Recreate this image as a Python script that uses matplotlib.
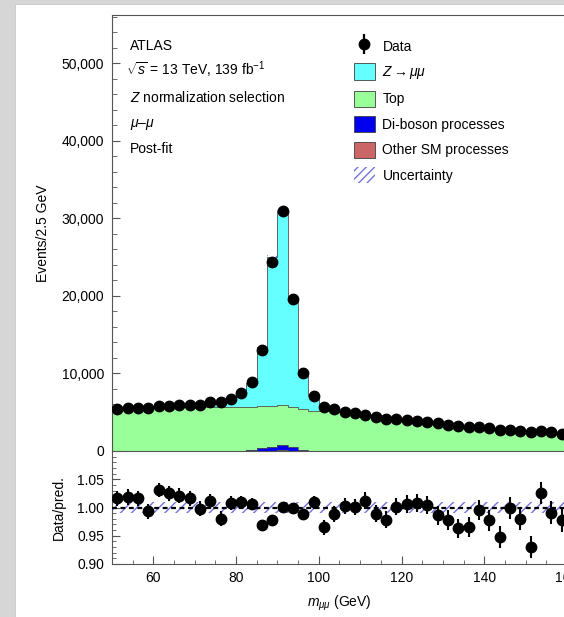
import numpy as np
import matplotlib
matplotlib.use("Agg")
import matplotlib.pyplot as plt
from matplotlib.patches import Patch, Rectangle
from matplotlib.lines import Line2D
from matplotlib.legend_handler import HandlerTuple
from matplotlib.ticker import MultipleLocator, FuncFormatter

plt.rcParams["font.family"] = ["Liberation Sans", "DejaVu Sans"]
plt.rcParams["mathtext.fontset"] = "custom"
plt.rcParams["mathtext.rm"] = "Liberation Sans"
plt.rcParams["mathtext.it"] = "Liberation Sans:italic"
plt.rcParams["mathtext.bf"] = "Liberation Sans:bold"
plt.rcParams["hatch.linewidth"] = 1.0

# ---- binning: 2.5 GeV bins from 50 to 160 GeV ----
bin_lo = 50.0
bin_width = 2.5
n_bins = 44
edges = bin_lo + bin_width * np.arange(n_bins + 1)
centers = 0.5 * (edges[:-1] + edges[1:])

# ---- observed events per bin ----
data = [5420, 5500, 5590, 5500, 5800, 5850, 5930, 5980, 5980, 6280,
        6280, 6700, 7440, 8860, 13030, 24420, 31000, 19650, 10040, 7100,
        5720, 5380, 4990, 4860, 4640, 4340, 4170, 4170, 4000, 3870,
        3700, 3570, 3350, 3180, 3100, 3050, 2920, 2750, 2750, 2620,
        2450, 2620, 2410, 2190]

# ---- post-fit background composition ----
other_sm = [0] * 15 + [60, 120, 40] + [0] * 26
diboson = [0] * 13 + [130, 340, 500, 610, 430, 130] + [0] * 25
top = [5230, 5300, 5390, 5420, 5500, 5560, 5620, 5660, 5680, 5680,
       5660, 5640, 5650, 5550, 5410, 5290, 5220, 5230, 5270, 5200,
       5150, 5300, 4990, 4850, 4620, 4420, 4270, 4140, 4000, 3860,
       3720, 3600, 3470, 3340, 3220, 3110, 3000, 2900, 2800, 2700,
       2610, 2520, 2430, 2350]
z_mumu = [100, 100, 110, 120, 130, 150, 190, 230, 310, 530,
          750, 1010, 1720, 3130, 7700, 19150, 25020, 13970, 4760, 1840,
          780] + [0] * 23

# ---- data / prediction ----
ratio = [1.016, 1.018, 1.016, 0.993, 1.031, 1.025, 1.021, 1.016, 0.998, 1.011,
         0.980, 1.008, 1.009, 1.006, 0.969, 0.977, 1.001, 0.999, 0.988, 1.009,
         0.965, 0.989, 1.002, 1.001, 1.012, 0.989, 0.978, 1.001, 1.006, 1.008,
         1.005, 0.986, 0.978, 0.963, 0.965, 0.996, 0.977, 0.948, 0.999, 0.979,
         0.930, 1.026, 0.991, 0.977]
ratio_err = [0.014, 0.014, 0.014, 0.014, 0.013, 0.013, 0.013, 0.013, 0.013, 0.013,
             0.013, 0.012, 0.012, 0.011, 0.009, 0.006, 0.006, 0.007, 0.010, 0.012,
             0.013, 0.014, 0.014, 0.014, 0.015, 0.015, 0.015, 0.015, 0.016, 0.016,
             0.016, 0.017, 0.017, 0.017, 0.018, 0.018, 0.018, 0.019, 0.019, 0.019,
             0.019, 0.020, 0.020, 0.021]
unc_rel = 0.009  # relative half-width of the prediction uncertainty band

col_z = "#66ffff"
col_top = "#99ff99"
col_dib = "#0000ee"
col_oth = "#cc6666"
col_unc = "#7272e0"
col_axis = "#555555"
col_edge = "#505050"

W, H = 564, 617
fig = plt.figure(figsize=(W / 100, H / 100), dpi=100)
fig.patch.set_facecolor("#d6d6d6")
fig.patches.append(Rectangle((15 / W, 0), 1, (H - 4) / H, transform=fig.transFigure,
                             facecolor="white", edgecolor="#c8c8c8", lw=0.6, zorder=-5))

ax_l, ax_r = 112, 567
main_top, main_bot, rat_bot = 15, 451, 564
ax = fig.add_axes([ax_l / W, 1 - main_bot / H, (ax_r - ax_l) / W, (main_bot - main_top) / H])
axr = fig.add_axes([ax_l / W, 1 - rat_bot / H, (ax_r - ax_l) / W, (rat_bot - main_bot) / H],
                   sharex=ax)
for a in (ax, axr):
    a.set_zorder(2)
    a.patch.set_alpha(0)

# ---- stacked prediction ----
layers = [(other_sm, col_oth), (diboson, col_dib), (top, col_top), (z_mumu, col_z)]
base = np.zeros(n_bins)
for vals, col in layers:
    lvl = base + np.asarray(vals, float)
    ax.stairs(lvl, edges, baseline=base, fill=True, color=col, lw=0, zorder=2)
    base = lvl
base = np.zeros(n_bins)
for vals, col in layers:
    lvl = base + np.asarray(vals, float)
    ax.stairs(lvl, edges, color=col_edge, lw=0.6, zorder=3)
    base = lvl
total = base

ax.stairs(total * (1 + unc_rel), edges, baseline=total * (1 - unc_rel), fill=True,
          facecolor="none", edgecolor=col_unc, hatch="///", lw=0, zorder=4)

ax.plot(centers, data, "o", color="black", ms=7.5, zorder=5)

ax.set_xlim(bin_lo, 160)
ax.set_ylim(0, 56200)

# ---- ratio panel ----
one = np.ones(n_bins)
axr.stairs(one + unc_rel, edges, baseline=one - unc_rel, fill=True,
           facecolor="none", edgecolor=col_unc, hatch="///", lw=0, zorder=2)
axr.axhline(1.0, color="black", lw=1.6, ls=(0, (2.2, 1.6)), zorder=3)
axr.errorbar(centers, ratio, yerr=ratio_err, fmt="o", color="black", ms=7.5,
             elinewidth=1.5, capsize=0, zorder=5)
axr.set_ylim(0.90, 1.10)

# ---- axes styling ----
for a in (ax, axr):
    for s in a.spines.values():
        s.set_color(col_axis)
        s.set_linewidth(0.8)
    a.spines["right"].set_visible(False)
    a.tick_params(which="both", direction="in", colors=col_axis, labelcolor="black",
                  labelsize=10, top=False, right=False)
    a.xaxis.set_major_locator(MultipleLocator(20))
    a.xaxis.set_minor_locator(MultipleLocator(5))

ax.tick_params(axis="x", which="major", length=8.5, labelbottom=False)
ax.tick_params(axis="x", which="minor", length=3.5)
ax.tick_params(axis="y", which="major", length=6, pad=5.5)
ax.tick_params(axis="y", which="minor", length=3.5)
ax.yaxis.set_major_locator(MultipleLocator(10000))
ax.yaxis.set_minor_locator(MultipleLocator(2000))
ax.yaxis.set_major_formatter(FuncFormatter(lambda v, _: f"{int(round(v)):,}"))

axr.tick_params(axis="x", which="major", length=6, pad=5)
axr.tick_params(axis="x", which="minor", length=3)
axr.tick_params(axis="y", which="major", length=6, pad=5.5)
axr.tick_params(axis="y", which="minor", length=3)
axr.yaxis.set_major_locator(MultipleLocator(0.05))
axr.yaxis.set_minor_locator(MultipleLocator(0.01))
axr.yaxis.set_major_formatter(FuncFormatter(lambda v, _: f"{v:.2f}"))
axr.spines["top"].set_visible(False)
axr.set_yticks([0.90, 0.95, 1.00, 1.05])

ax.set_ylabel("Events/2.5 GeV", fontsize=10)
ax.yaxis.set_label_coords((50 - ax_l) / (ax_r - ax_l), 0.5)
axr.set_ylabel("Data/pred.", fontsize=10)
axr.yaxis.set_label_coords((66 - ax_l) / (ax_r - ax_l), 0.5)
axr.set_xlabel(r"$m_{\mu\mu}$ (GeV)", fontsize=10)
axr.xaxis.set_label_coords(0.5, -0.26)

# ---- annotation block ----
def ftxt(x, y, s):
    fig.text(x / W, 1 - y / H, s, fontsize=10, ha="left", va="baseline")

ftxt(130, 50, "ATLAS")
ftxt(126, 75.5, r"$\sqrt{s}$ = 13 TeV, 139 fb$^{-1}$")
ftxt(130, 101.5, r"$Z$ normalization selection")
ftxt(130, 127, r"$\mu$–$\mu$")
ftxt(130, 152.7, "Post-fit")

# ---- legend ----
h_data = (Line2D([], [], color="black", marker="|", ms=15, mew=1.6, ls="none"),
          Line2D([], [], color="black", marker="o", ms=7.5, ls="none"))
handles = [h_data,
           Patch(facecolor=col_z, edgecolor="#404040", lw=0.6),
           Patch(facecolor=col_top, edgecolor="#404040", lw=0.6),
           Patch(facecolor=col_dib, edgecolor="#404040", lw=0.6),
           Patch(facecolor=col_oth, edgecolor="#404040", lw=0.6),
           Patch(facecolor="none", edgecolor=col_unc, hatch="////", lw=0)]
labels = ["Data", r"$Z \rightarrow \mu\mu$", "Top", "Di-boson processes",
          "Other SM processes", "Uncertainty"]
leg = fig.legend(handles, labels, loc="upper left", bbox_to_anchor=(354 / W, 1 - 38 / H),
                 frameon=False, borderpad=0, borderaxespad=0, fontsize=10,
                 handlelength=1.5, handleheight=1.4, labelspacing=0.68, handletextpad=0.55,
                 handler_map={tuple: HandlerTuple(ndivide=1)})
leg.set_zorder(5)

fig.savefig("out.png", dpi=100, facecolor=fig.get_facecolor())
